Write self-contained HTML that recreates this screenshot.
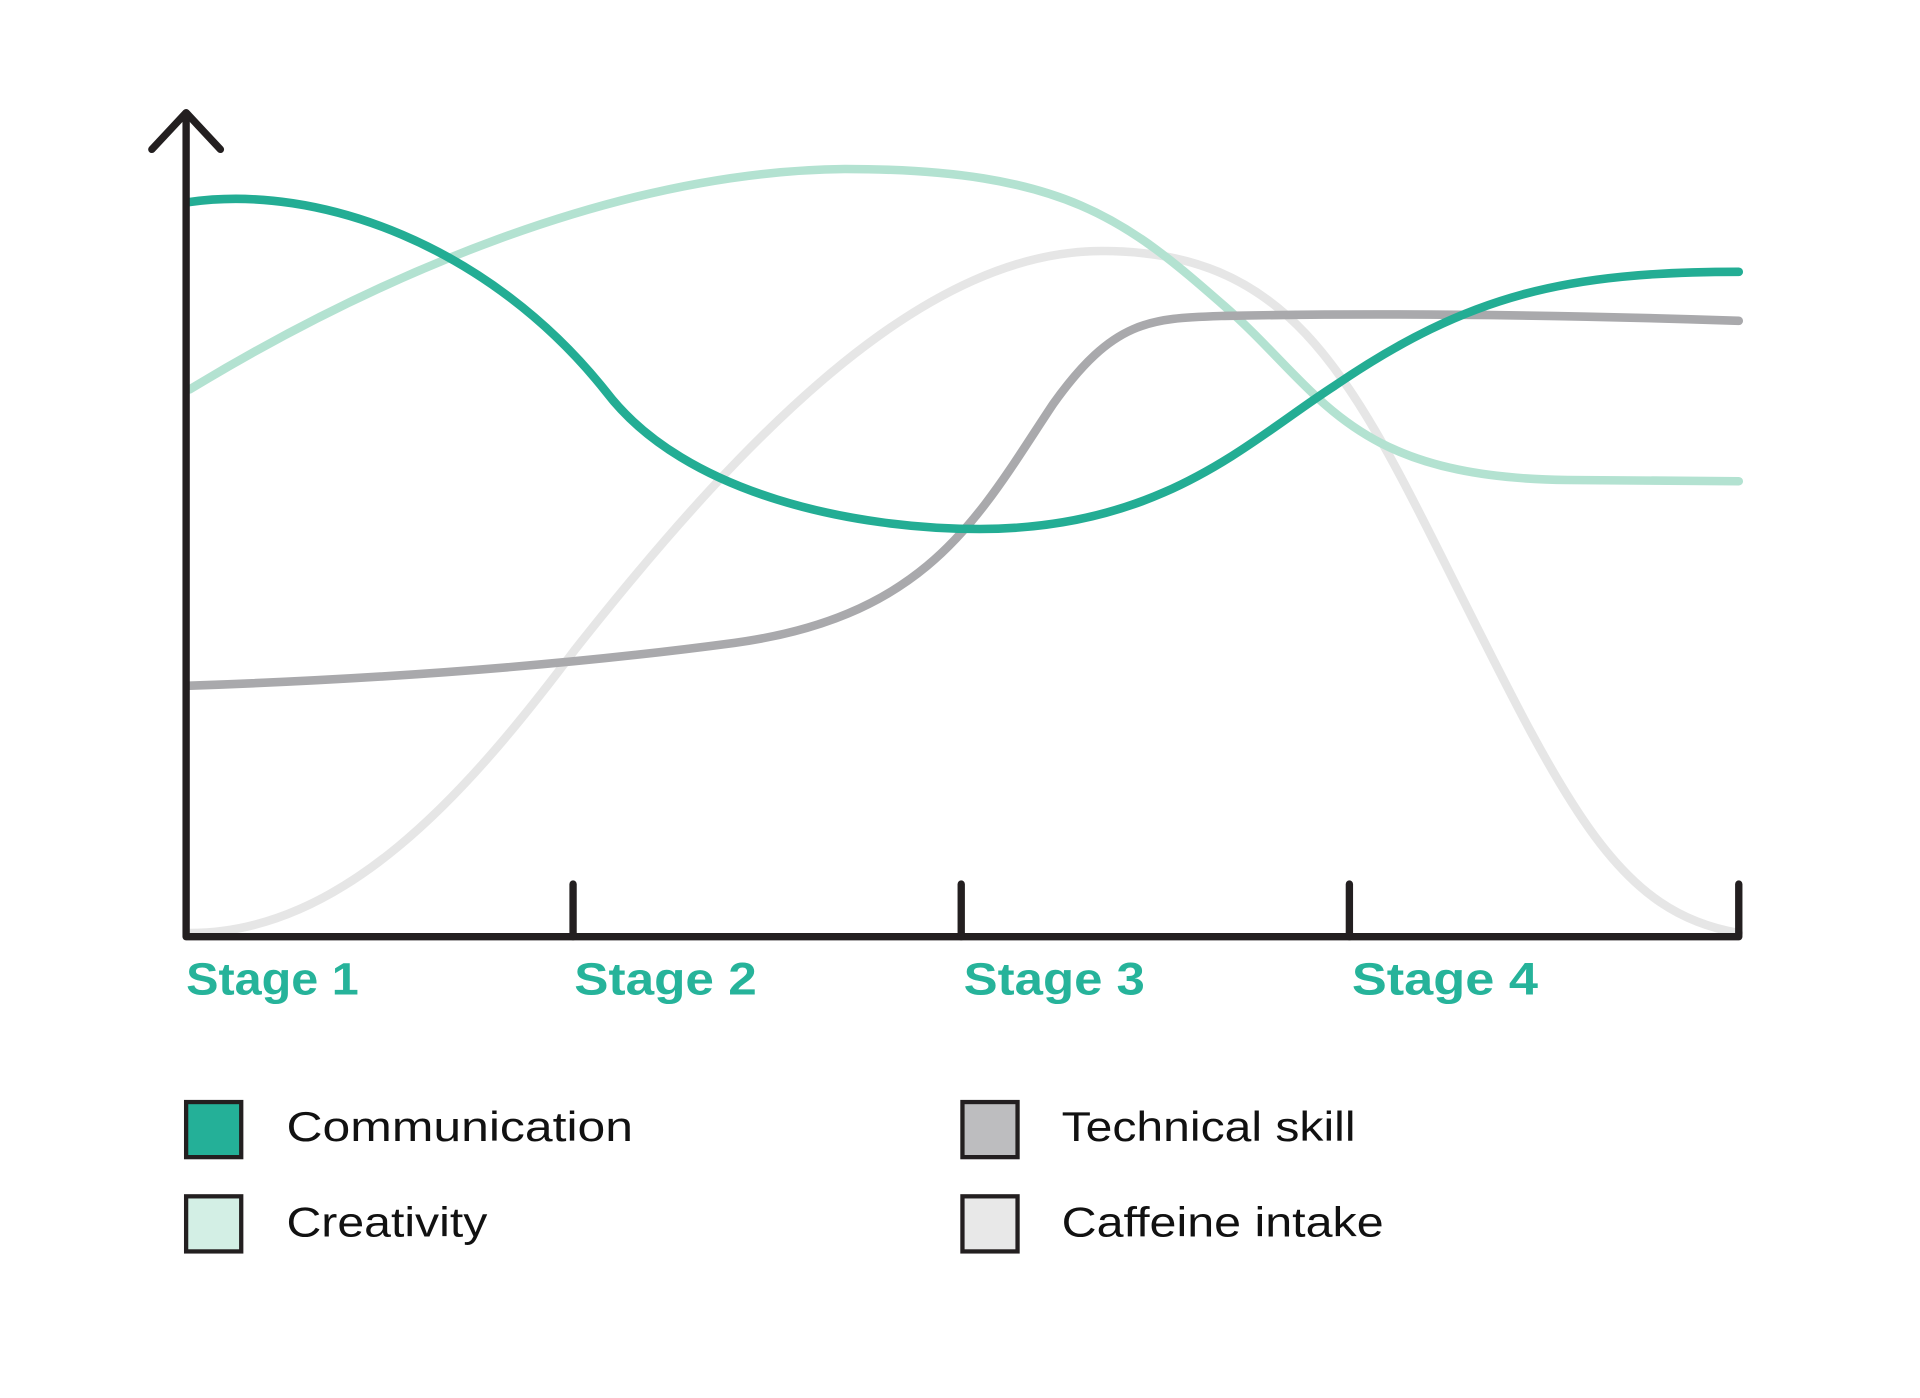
<!DOCTYPE html>
<html><head><meta charset="utf-8"><style>html,body{margin:0;padding:0;background:#fff;}svg{display:block;}</style></head>
<body>
<svg width="1920" height="1398" viewBox="0 0 1568 1141.7" preserveAspectRatio="none" xmlns="http://www.w3.org/2000/svg">
<g fill="none" stroke-linecap="round" stroke-width="7">
<path d="M155,762 C280,762 380,650 470,530 C620,340 760,205 900,205 C1050,205 1100,300 1180,460 C1280,660 1320,745 1420,762" stroke="#e6e6e6"/>
<path d="M155,318 C300,230 500,140 690,138 C870,138 920,180 1000,250 C1080,320 1100,390 1280,392 L1420,393" stroke="#b3e2d1"/>
<path d="M155,560 C300,555 450,545 600,525 C760,503 800,420 860,330 C910,260 940,260 1000,258 C1150,255 1300,258 1420,262" stroke="#a9a9ac"/>
<path d="M155,165 C260,150 400,200 495,320 C560,405 700,432 800,432 C950,432 1020,360 1090,315 C1200,240 1280,222 1420,222" stroke="#23ad94"/>
</g>
<g fill="none" stroke="#231f20" stroke-width="6" stroke-linecap="round" stroke-linejoin="round">
<path d="M124,122 L152,92 L180,122"/>
<path d="M152,94 L152,765 L1420,765 L1420,722"/>
<path d="M468,765 L468,722 M785,765 L785,722 M1102,765 L1102,722"/>
</g>
<g font-family="Liberation Sans, sans-serif" font-weight="bold" font-size="37" fill="#26b39a" lengthAdjust="spacingAndGlyphs">
<text x="152" y="812" textLength="141" lengthAdjust="spacingAndGlyphs">Stage 1</text>
<text x="469" y="812" textLength="149" lengthAdjust="spacingAndGlyphs">Stage 2</text>
<text x="787" y="812" textLength="148" lengthAdjust="spacingAndGlyphs">Stage 3</text>
<text x="1104" y="812" textLength="152" lengthAdjust="spacingAndGlyphs">Stage 4</text>
</g>
<g stroke="#231f20" stroke-width="3.5">
<rect x="152" y="900" width="45" height="45" fill="#24b098"/>
<rect x="152" y="977" width="45" height="45" fill="#d3efe5"/>
<rect x="786" y="900" width="45" height="45" fill="#bdbdbf"/>
<rect x="786" y="977" width="45" height="45" fill="#e8e8e8"/>
</g>
<g font-family="Liberation Sans, sans-serif" font-size="34" fill="#111">
<text x="234" y="932" textLength="283" lengthAdjust="spacingAndGlyphs">Communication</text>
<text x="234" y="1010" textLength="164" lengthAdjust="spacingAndGlyphs">Creativity</text>
<text x="867" y="932" textLength="240" lengthAdjust="spacingAndGlyphs">Technical skill</text>
<text x="867" y="1010" textLength="263" lengthAdjust="spacingAndGlyphs">Caffeine intake</text>
</g>
</svg>
</body></html>
